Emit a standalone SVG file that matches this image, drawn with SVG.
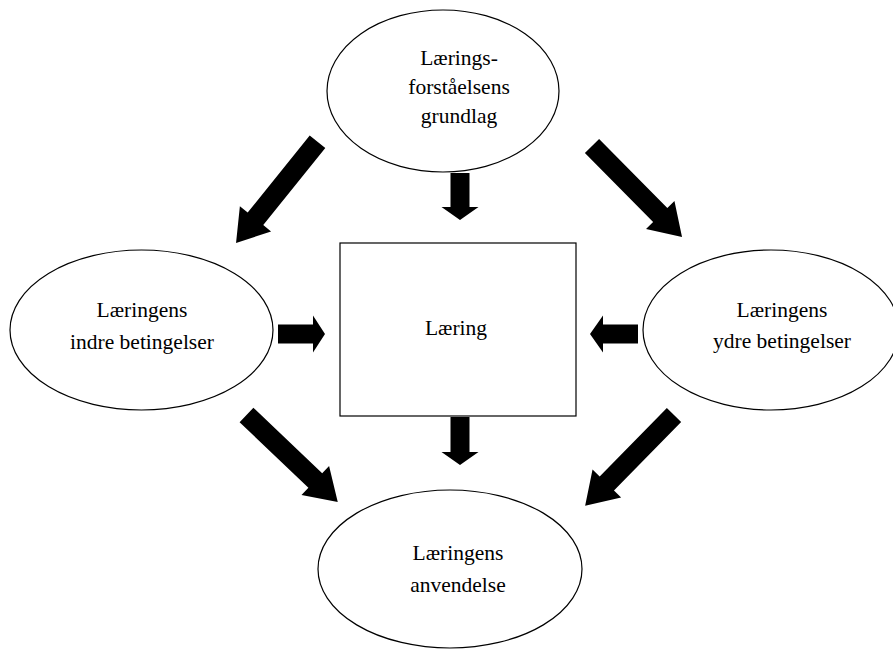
<svg xmlns="http://www.w3.org/2000/svg" width="893" height="651" viewBox="0 0 893 651">
<style>
.shape{fill:#fff;stroke:#000;stroke-width:1.2}
.lbl{font-family:"Liberation Serif","Times New Roman",serif;font-size:21.5px;fill:#000;text-anchor:middle}
.arr{fill:#000}
</style>
<rect width="893" height="651" fill="#fff"/>
<g id="connectors">
<polygon class="arr" points="0,-10 99,-10 99,-20 130,0 99,20 99,10 0,10" transform="translate(317.5,141.7) rotate(128.8)"/>
<polygon class="arr" points="0,-10 97,-10 97,-20 128,0 97,20 97,10 0,10" transform="translate(592,146) rotate(45.3)"/>
<polygon class="arr" points="0,-10 95,-10 95,-20 126,0 95,20 95,10 0,10" transform="translate(246.5,415) rotate(43.6)"/>
<polygon class="arr" points="0,-10 96,-10 96,-20 127,0 96,20 96,10 0,10" transform="translate(674,415) rotate(134.4)"/>
<polygon class="arr" points="0,-9.5 34,-9.5 34,-18.5 47,0 34,18.5 34,9.5 0,9.5" transform="translate(460,173) rotate(90)"/>
<polygon class="arr" points="0,-9.5 35,-9.5 35,-18.5 48,0 35,18.5 35,9.5 0,9.5" transform="translate(460,417) rotate(90)"/>
<polygon class="arr" points="0,-9.5 35,-9.5 35,-18.5 47,0 35,18.5 35,9.5 0,9.5" transform="translate(278,334)"/>
<polygon class="arr" points="0,-9.5 35,-9.5 35,-18.5 48,0 35,18.5 35,9.5 0,9.5" transform="translate(638,334) rotate(180)"/>
</g>
<g id="node-grundlag">
<ellipse class="shape" cx="443" cy="91" rx="116" ry="81"/>
<text class="lbl" x="459" y="65">Lærings-</text>
<text class="lbl" x="459" y="94">forståelsens</text>
<text class="lbl" x="459" y="123">grundlag</text>
</g>
<g id="node-indre">
<ellipse class="shape" cx="141.5" cy="330" rx="131.5" ry="80"/>
<text class="lbl" x="142" y="317">Læringens</text>
<text class="lbl" x="142" y="349">indre betingelser</text>
</g>
<g id="node-laering">
<rect class="shape" x="340" y="243" width="236" height="173"/>
<text class="lbl" x="456" y="335">Læring</text>
</g>
<g id="node-ydre">
<ellipse class="shape" cx="771" cy="330" rx="128" ry="80"/>
<text class="lbl" x="782" y="317">Læringens</text>
<text class="lbl" x="782" y="348">ydre betingelser</text>
</g>
<g id="node-anvendelse">
<ellipse class="shape" cx="450" cy="569" rx="132" ry="79"/>
<text class="lbl" x="458" y="560">Læringens</text>
<text class="lbl" x="458" y="592">anvendelse</text>
</g>
</svg>
